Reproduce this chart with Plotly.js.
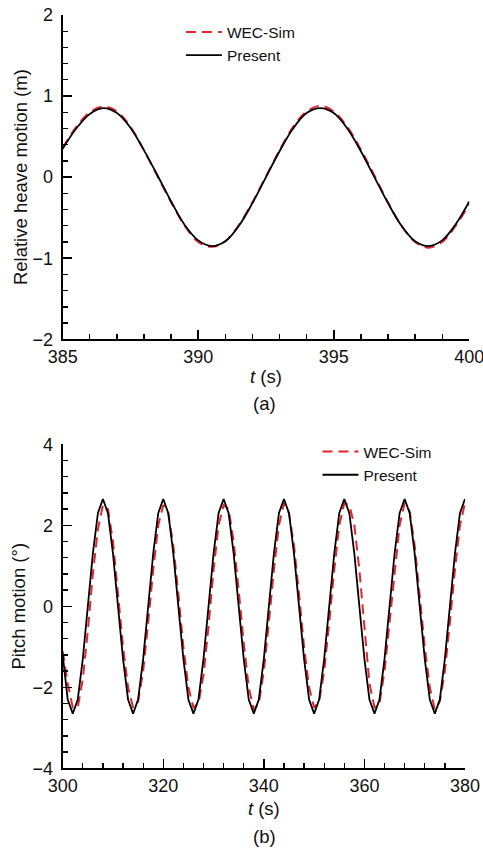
<!DOCTYPE html>
<html>
<head>
<meta charset="utf-8">
<script src="https://cdn.plot.ly/plotly-3.0.1.min.js"></script>
<style>
html,body{margin:0;padding:0;background:#fff;}
#chart{width:483px;height:851px;}
</style>
</head>
<body>
<div id="chart"></div>
<script>
// ---- Panel (a): relative heave motion ----
var heaveTime = [385,385.5,386,386.5,387,387.5,388,388.5,389,389.5,390,390.5,391,391.5,392,392.5,393,393.5,394,394.5,395,395.5,396,396.5,397,397.5,398,398.5,399,399.5,400];
var heaveWecSim = [0.36,0.62,0.80,0.87,0.81,0.62,0.33,0.01,-0.31,-0.60,-0.80,-0.86,-0.79,-0.59,-0.31,0.01,0.33,0.62,0.81,0.88,0.81,0.62,0.34,0.02,-0.31,-0.60,-0.80,-0.87,-0.80,-0.60,-0.33];
var heavePresent = [0.35,0.60,0.78,0.85,0.79,0.61,0.33,0.02,-0.30,-0.59,-0.78,-0.85,-0.79,-0.60,-0.32,0.00,0.32,0.60,0.79,0.85,0.79,0.60,0.32,0.00,-0.32,-0.60,-0.79,-0.85,-0.78,-0.58,-0.30];

// ---- Panel (b): pitch motion ----
var pitchTime = [300,301,302,303,304,305,306,307,308,309,310,311,312,313,314,315,316,317,318,319,320,321,322,323,324,325,326,327,328,329,330,331,332,333,334,335,336,337,338,339,340,341,342,343,344,345,346,347,348,349,350,351,352,353,354,355,356,357,358,359,360,361,362,363,364,365,366,367,368,369,370,371,372,373,374,375,376,377,378,379,380];
var pitchWecSim = [-1.1,-1.9,-2.5,-2.5,-1.8,-0.6,0.8,1.9,2.5,2.4,1.6,0.3,-1.0,-2.0,-2.5,-2.35,-1.6,-0.4,0.9,2.0,2.5,2.3,1.5,0.3,-1.0,-2.0,-2.5,-2.4,-1.7,-0.5,0.9,2.0,2.5,2.4,1.6,0.4,-0.9,-2.0,-2.55,-2.4,-1.6,-0.4,0.9,2.0,2.55,2.3,1.5,0.3,-1.0,-2.0,-2.5,-2.35,-1.6,-0.4,0.9,2.0,2.55,2.5,2.0,0.9,-0.6,-1.9,-2.5,-2.4,-1.6,-0.4,0.9,2.0,2.55,2.35,1.5,0.3,-1.0,-2.0,-2.55,-2.35,-1.6,-0.4,0.9,2.0,2.55];
var pitchPresent = [-1.2,-2.3,-2.65,-2.3,-1.3,0,1.3,2.3,2.65,2.3,1.3,0,-1.3,-2.3,-2.65,-2.3,-1.3,0,1.3,2.3,2.65,2.3,1.3,0,-1.3,-2.3,-2.65,-2.3,-1.3,0,1.3,2.3,2.65,2.3,1.3,0,-1.3,-2.3,-2.65,-2.3,-1.3,0,1.3,2.3,2.65,2.3,1.3,0,-1.3,-2.3,-2.65,-2.3,-1.3,0,1.3,2.3,2.65,2.3,1.3,0,-1.3,-2.3,-2.65,-2.3,-1.3,0,1.3,2.3,2.65,2.3,1.3,0,-1.3,-2.3,-2.65,-2.3,-1.3,0,1.3,2.3,2.65];

var seriesNames = ['WEC-Sim','Present'];
var RED = '#e8232b';
var FONT = 'Liberation Sans, Arial, sans-serif';

var traces = [
  {x: heaveTime, y: heaveWecSim, name: seriesNames[0], type: 'scatter', mode: 'lines',
   line: {color: RED, width: 2, dash: '10px,6px', shape: 'spline'}, xaxis: 'x', yaxis: 'y', legend: 'legend'},
  {x: heaveTime, y: heavePresent, name: seriesNames[1], type: 'scatter', mode: 'lines',
   line: {color: '#000', width: 1.8, shape: 'spline'}, xaxis: 'x', yaxis: 'y', legend: 'legend'},
  {x: pitchTime, y: pitchWecSim, name: seriesNames[0], type: 'scatter', mode: 'lines',
   line: {color: RED, width: 2, dash: '10px,6px'}, xaxis: 'x2', yaxis: 'y2', legend: 'legend2'},
  {x: pitchTime, y: pitchPresent, name: seriesNames[1], type: 'scatter', mode: 'lines',
   line: {color: '#000', width: 1.8}, xaxis: 'x2', yaxis: 'y2', legend: 'legend2'}
];

function axisBase(extra) {
  var a = {
    showline: true, linecolor: '#000', linewidth: 2, mirror: false,
    showgrid: false, zeroline: false,
    ticks: 'inside', ticklen: 9, tickwidth: 1.5, tickcolor: '#000',
    tickfont: {family: FONT, size: 18, color: '#111'},
    ticklabeloverflow: 'allow',
    fixedrange: true
  };
  for (var k in extra) a[k] = extra[k];
  return a;
}

var layout = {
  width: 483, height: 851,
  margin: {l: 0, r: 0, t: 0, b: 0},
  paper_bgcolor: '#fff', plot_bgcolor: '#fff',
  font: {family: FONT, color: '#111'},
  xaxis: axisBase({domain: [0.1298, 0.9716], range: [385, 400], dtick: 5, tick0: 385, anchor: 'y',
    minor: {dtick: 1, ticks: 'inside', ticklen: 5, tickwidth: 1.3, tickcolor: '#000'},
    title: {text: '<i>t</i> (s)', font: {family: FONT, size: 18.5, color: '#111'}, standoff: 4}}),
  yaxis: axisBase({domain: [0.6013, 0.9824], range: [-2, 2], dtick: 1, anchor: 'x',
    minor: {dtick: 0.2, ticks: 'inside', ticklen: 5, tickwidth: 1.3, tickcolor: '#000'},
    ticklabelstandoff: 4,
    title: {text: 'Relative heave motion (m)', font: {family: FONT, size: 18.5, color: '#111'}, standoff: 0}}),
  xaxis2: axisBase({domain: [0.1298, 0.9627], range: [300, 380], dtick: 20, tick0: 300, anchor: 'y2',
    minor: {dtick: 4, ticks: 'inside', ticklen: 5, tickwidth: 1.3, tickcolor: '#000'},
    title: {text: '<i>t</i> (s)', font: {family: FONT, size: 18.5, color: '#111'}, standoff: 7}}),
  yaxis2: axisBase({domain: [0.0972, 0.4779], range: [-4, 4], dtick: 2, anchor: 'x2',
    minor: {dtick: 0.4, ticks: 'inside', ticklen: 5, tickwidth: 1.3, tickcolor: '#000'},
    ticklabelstandoff: 4,
    title: {text: 'Pitch motion (°)', font: {family: FONT, size: 18.5, color: '#111'}, standoff: 2}}),
  legend: {x: 0.3745, y: 0.982, xanchor: 'left', yanchor: 'top', bgcolor: 'rgba(0,0,0,0)',
    font: {family: FONT, size: 15.5, color: '#111'}, tracegroupgap: 0, itemwidth: 36},
  legend2: {x: 0.6573, y: 0.4888, xanchor: 'left', yanchor: 'top', bgcolor: 'rgba(0,0,0,0)',
    font: {family: FONT, size: 15.5, color: '#111'}, tracegroupgap: 0, itemwidth: 36},
  annotations: [
    {text: '(a)', xref: 'paper', yref: 'paper', x: 0.548, y: 1 - 403/851, xanchor: 'center', yanchor: 'middle',
     showarrow: false, font: {family: FONT, size: 18.5, color: '#111'}},
    {text: '(b)', xref: 'paper', yref: 'paper', x: 0.548, y: 1 - 836.7/851, xanchor: 'center', yanchor: 'middle',
     showarrow: false, font: {family: FONT, size: 18.5, color: '#111'}}
  ],
  showlegend: true
};

Plotly.newPlot('chart', traces, layout, {displayModeBar: false, staticPlot: true});
</script>
</body>
</html>
